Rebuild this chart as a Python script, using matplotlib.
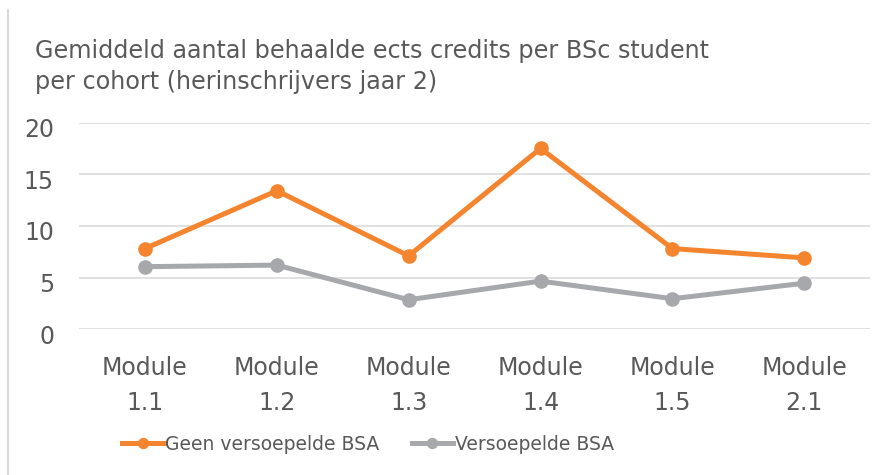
import numpy as np
import matplotlib
matplotlib.use("Agg")
import matplotlib.pyplot as plt
import matplotlib.transforms as mtransforms
from matplotlib.lines import Line2D

# ----------------------------------------
# data
# ----------------------------------------
modules = ["Module\n1.1", "Module\n1.2", "Module\n1.3", "Module\n1.4", "Module\n1.5", "Module\n2.1"]
geen_versoepeld = [7.8, 13.4, 7.1, 17.5, 7.8, 6.9]
versoepeld = [6.05, 6.2, 2.85, 4.65, 2.95, 4.45]
series_names = ["Geen versoepelde BSA", "Versoepelde BSA"]
yticks = [0, 5, 10, 15, 20]
title_lines = ["Gemiddeld aantal behaalde ects credits per BSc student",
               "per cohort (herinschrijvers jaar 2)"]

text_col = "#595959"
orange = "#F5842F"
grey = "#A7A8AC"

plt.rcParams['font.family'] = ['DejaVu Sans']

fig = plt.figure(figsize=(8.88, 4.75), dpi=100)
ax = fig.add_axes([0.089, 0.307, 0.891, 0.435])

x = np.arange(len(modules))
ax.plot(x, geen_versoepeld, color=orange, lw=3.6, marker='o', ms=9.5, label=series_names[0],
        solid_joinstyle='round', zorder=3)
ax.plot(x, versoepeld, color=grey, lw=3.6, marker='o', ms=9.5, label=series_names[1],
        solid_joinstyle='round', zorder=3)

ax.set_xlim(-0.5, len(modules) - 0.5)
ax.set_ylim(0, 20)
ax.set_yticks(yticks)
ax.set_xticks(x)
ax.set_xticklabels(modules, linespacing=1.6)
ax.tick_params(axis='both', length=0, labelsize=17, colors=text_col)
ax.tick_params(axis='y', pad=18)
ax.tick_params(axis='x', pad=19)
# y labels sit a little below their gridlines
shift = mtransforms.ScaledTranslation(0, -5/100, fig.dpi_scale_trans)
for lbl in ax.get_yticklabels():
	lbl.set_horizontalalignment('right')
	lbl.set_transform(lbl.get_transform() + shift)
ax.grid(axis='y', color='#D9D9D9', lw=1.1)
ax.set_axisbelow(True)
for s in ax.spines.values():
	s.set_visible(False)

# title, two lines at fixed baselines
for i, line in enumerate(title_lines):
	fig.text(35/888, 1 - (58 + 31*i)/475, line, fontsize=17.2, color=text_col,
	         ha='left', va='baseline')

# thin frame line at the left edge
fig.add_artist(Line2D([8/888, 8/888], [0, 1 - 10/475], transform=fig.transFigure,
                      color='#D9D9D9', lw=1.5))

leg = fig.legend(loc='center', bbox_to_anchor=(368/888, 1 - 444/475), ncol=2, frameon=False,
                 fontsize=13.5, handlelength=2.2, handletextpad=0.1, columnspacing=1.7,
                 markerscale=0.75)
for t in leg.get_texts():
	t.set_color(text_col)

fig.savefig("out.png", dpi=100)
